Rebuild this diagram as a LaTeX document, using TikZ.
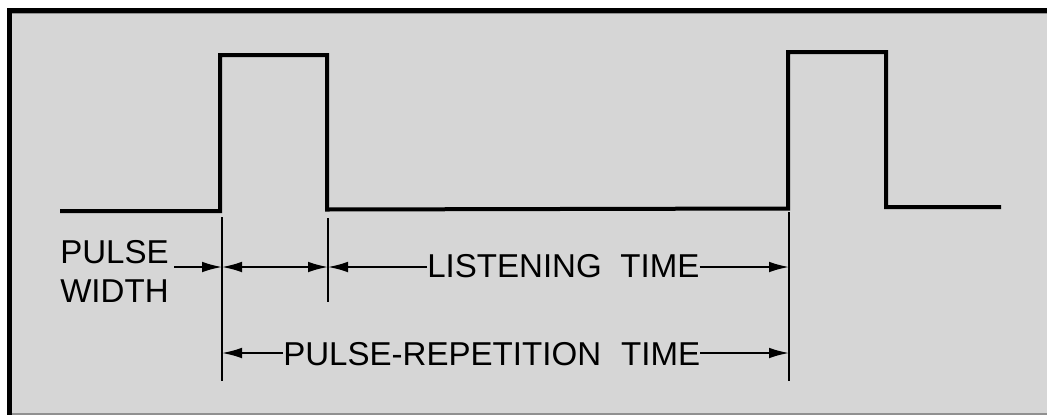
\documentclass[tikz,border=0pt]{standalone}
\usepackage{fontspec}
\setmainfont{Liberation Sans}
\usetikzlibrary{arrows.meta}
\definecolor{bgc}{HTML}{D6D6D6}
\definecolor{edgec}{HTML}{909090}
\begin{document}
\begin{tikzpicture}[x=0.75pt,y=-0.75pt,
  wave/.style={line width=3pt,line join=miter},
  ext/.style={line width=1.8pt},
  dim/.style={line width=1.3pt},
  tip/.style={-{Latex[length=15pt,width=8pt]}},
  tips/.style={{Latex[length=15pt,width=8pt]}-{Latex[length=15pt,width=8pt]}},
  lbl/.style={inner sep=0pt,font=\fontsize{24.8}{29}\selectfont}]
\useasboundingbox (0,0) rectangle (1047,415);
\fill[white] (0,0) rectangle (1047,415);
\fill[bgc] (7,8) rectangle (1047,415);
\fill[black] (7,8) rectangle (1047,13.3);
\fill[black] (7,8) rectangle (12.3,415);
\draw[edgec,line width=1.2pt] (12.3,414.2) -- (1047,414.2);
\draw[edgec,line width=0.8pt] (12.3,13.8) -- (1047,13.8);
% waveform
\coordinate (w0) at (60,211);
\coordinate (w1) at (220,211);
\coordinate (w2) at (220,55);
\coordinate (w3) at (327,55);
\coordinate (w4) at (327,209.5);
\coordinate (w5) at (788,208.5);
\coordinate (w6) at (788,52);
\coordinate (w7) at (886,52);
\coordinate (w8) at (886,207);
\coordinate (w9) at (1001,207);
\draw[wave] (w0) -- (w1) -- (w2) -- (w3) -- (w4) -- (w5) -- (w6) -- (w7) -- (w8) -- (w9);
% extension lines
\coordinate (e1t) at (222,217);
\coordinate (e1b) at (222,381);
\coordinate (e2t) at (328,218);
\coordinate (e2b) at (328,302);
\coordinate (e3t) at (789,212);
\coordinate (e3b) at (789,381);
\draw[ext] (e1t) -- (e1b);
\draw[ext] (e2t) -- (e2b);
\draw[ext] (e3t) -- (e3b);
% dimension points
\coordinate (a1) at (222,267);
\coordinate (b1) at (328,267);
\coordinate (c1) at (789,267);
\coordinate (a2) at (222,353);
\coordinate (c2) at (789,353);
\coordinate (pw) at (174,267);
% labels
\node[lbl,anchor=base west] (pulse) at (60,263) {PULSE};
\node[lbl,anchor=base west] (width) at (60,302) {WIDTH};
\node[lbl,anchor=west] (lt) at (427,266) {LISTENING\hspace{14pt}TIME};
\node[lbl,anchor=west] (prt) at (283,354) {PULSE-REPETITION\hspace{15pt}TIME};
% dimension lines
\draw[dim,tip] (pw) -- (a1);
\draw[dim,tips] (a1) -- (b1);
\draw[dim,tip] (lt.west |- b1) -- (b1);
\draw[dim,tip] (lt.east |- c1) -- (c1);
\draw[dim,tip] (prt.west |- a2) -- (a2);
\draw[dim,tip] (prt.east |- c2) -- (c2);
\end{tikzpicture}
\end{document}
